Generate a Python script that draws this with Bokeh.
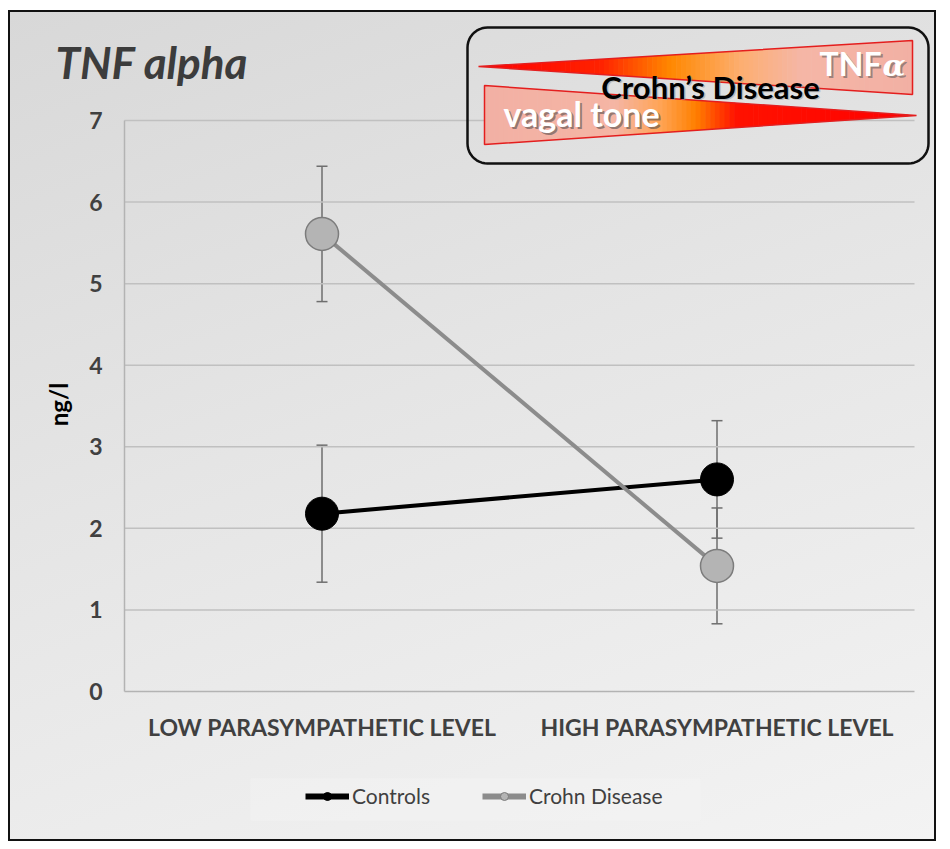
import numpy as np
from bokeh.plotting import figure
from bokeh.models import (Range1d, FixedTicker, ColumnDataSource, Whisker, TeeHead,
                          Label, Legend, LegendItem)
from bokeh.embed import file_html
from bokeh.resources import INLINE

# ---------------- data ----------------
categories = ["LOW PARASYMPATHETIC LEVEL", "HIGH PARASYMPATHETIC LEVEL"]
cat_pos = [0.5, 1.5]
controls = [2.18, 2.60]
controls_err = [0.84, 0.72]
crohn = [5.61, 1.54]
crohn_err = [0.83, 0.71]
y_ticks = [0, 1, 2, 3, 4, 5, 6, 7]

# ---------------- geometry (reference pixels) ----------------
W, H = 928, 831
CANVAS_X0, CANVAS_Y0 = 10, 12          # where the canvas starts on the page
AX_LEFT, AX_RIGHT = 124, 914           # plot area x extent for data 0..2
AX_ZERO, AX_SEVEN = 691, 120           # y pixel of value 0 and 7
ppx = (AX_RIGHT - AX_LEFT) / 2.0
ppy = (AX_ZERO - AX_SEVEN) / 7.0
x_start = (CANVAS_X0 - AX_LEFT) / ppx
x_end = (CANVAS_X0 + W - AX_LEFT) / ppx
y_end = (AX_ZERO - CANVAS_Y0) / ppy
y_start = (AX_ZERO - (CANVAS_Y0 + H)) / ppy

p = figure(width=W, height=H, output_backend="svg", toolbar_location=None,
           x_range=Range1d(x_start, x_end), y_range=Range1d(y_start, y_end),
           min_border=0, min_border_left=0, min_border_right=0,
           min_border_top=0, min_border_bottom=0)
p.styles = {"background": "linear-gradient(160deg, #d8d8d8 0%, #e5e5e5 45%, #f3f3f3 100%)",
            "border": "2px solid #111111",
            "margin-left": "8px", "margin-top": "10px"}
p.border_fill_alpha = 0
p.background_fill_alpha = 0
p.outline_line_color = None
p.xgrid.visible = False
p.ygrid.visible = False

# reference-pixel ranges for decorations
p.extra_x_ranges = {"px": Range1d(CANVAS_X0, CANVAS_X0 + W)}
p.extra_y_ranges = {"py": Range1d(CANVAS_Y0 + H, CANVAS_Y0)}

# axes (fixed inside the frame)
yax = p.yaxis[0]
yax.fixed_location = 0
yax.ticker = FixedTicker(ticks=y_ticks)
yax.axis_line_color = None
yax.major_tick_line_color = None
yax.minor_tick_line_color = None
yax.major_label_text_font = "Lato"
yax.major_label_text_font_style = "bold"
yax.major_label_text_font_size = "23px"
yax.major_label_text_color = "#404040"
yax.major_label_standoff = 16

xax = p.xaxis[0]
xax.fixed_location = 0
xax.ticker = FixedTicker(ticks=cat_pos)
xax.major_label_overrides = {cat_pos[i]: categories[i] for i in range(2)}
xax.axis_line_color = None
xax.major_tick_line_color = None
xax.minor_tick_line_color = None
xax.major_label_text_font = "Lato"
xax.major_label_text_font_style = "bold"
xax.major_label_text_font_size = "23px"
xax.major_label_text_color = "#404040"
xax.major_label_standoff = 15

# legend backdrop (subtle lighter panel)
p.quad(left=[250], right=[700], top=[778], bottom=[820], fill_color="#f4f4f4",
       fill_alpha=0.45, line_color=None, x_range_name="px", y_range_name="py")

# gridlines and axis lines
p.segment(x0=0, x1=2, y0=y_ticks[1:], y1=y_ticks[1:], line_color="#c0c0c0", line_width=1.5)
p.segment(x0=[0], x1=[2], y0=[0], y1=[0], line_color="#b3b3b3", line_width=1.5)
p.segment(x0=[0], x1=[0], y0=[0], y1=[max(y_ticks)], line_color="#b3b3b3", line_width=1.5)

# error bars
for vals, errs in ((controls, controls_err), (crohn, crohn_err)):
    src = ColumnDataSource(dict(x=cat_pos,
                                lower=[v - e for v, e in zip(vals, errs)],
                                upper=[v + e for v, e in zip(vals, errs)]))
    w = Whisker(source=src, base="x", lower="lower", upper="upper", dimension="height",
                line_color="#6e6e6e", line_width=1.5,
                upper_head=TeeHead(size=11, line_color="#6e6e6e", line_width=1.5),
                lower_head=TeeHead(size=11, line_color="#6e6e6e", line_width=1.5))
    w.level = "underlay"
    p.add_layout(w)

# series
p.line(cat_pos, controls, line_color="#000000", line_width=4)
p.line(cat_pos, crohn, line_color="#8c8c8c", line_width=4)
p.scatter(cat_pos, controls, size=33, fill_color="#000000", line_color="#000000")
p.scatter(cat_pos, crohn, size=33, fill_color="#b4b4b4", line_color="#7c7c7c", line_width=1.5)

# legend (small stand-in glyphs, no visible data)
nan2 = [np.nan, np.nan]
lc = p.line(nan2, nan2, line_color="#000000", line_width=6)
sc = p.scatter(nan2, nan2, size=11, fill_color="#000000", line_color="#000000")
lg = p.line(nan2, nan2, line_color="#8c8c8c", line_width=6)
sg = p.scatter(nan2, nan2, size=11, fill_color="#b4b4b4", line_color="#7c7c7c")
legend = Legend(items=[LegendItem(label="Controls", renderers=[lc, sc]),
                       LegendItem(label="Crohn Disease", renderers=[lg, sg])],
                orientation="horizontal", location=(295, 35),
                label_text_font="Lato", label_text_font_size="21px",
                label_text_color="#404040", glyph_width=44, glyph_height=20,
                label_standoff=3, spacing=52, padding=10, margin=0,
                background_fill_alpha=0, border_line_color=None)
p.add_layout(legend)

# ---------------- inset (decorative illustration) ----------------
def rounded_rect(x0, x1, y0, y1, r, n=12):
    xs, ys = [], []
    corners = [(x1 - r, y0 + r, -90, 0), (x1 - r, y1 - r, 0, 90),
               (x0 + r, y1 - r, 90, 180), (x0 + r, y0 + r, 180, 270)]
    for cx, cy, a0, a1 in corners:
        for a in np.linspace(np.radians(a0), np.radians(a1), n):
            xs.append(cx + r * np.cos(a))
            ys.append(cy + r * np.sin(a))
    return xs, ys

def hex2rgb(h):
    h = h.lstrip("#")
    return np.array([int(h[i:i + 2], 16) for i in (0, 2, 4)], dtype=float)

def color_at(x, stops):
    xs = [s[0] for s in stops]
    cols = [hex2rgb(s[1]) for s in stops]
    rgb = [np.interp(x, xs, [c[k] for c in cols]) for k in range(3)]
    return "#%02x%02x%02x" % tuple(int(round(v)) for v in rgb)

def wedge(xa, ya_top, ya_bot, xb, yb_top, yb_bot, stops, n=90):
    xs_list, ys_list, cols = [], [], []
    edges = np.linspace(xa, xb, n + 1)
    for i in range(n):
        u0 = (edges[i] - xa) / (xb - xa)
        u1 = (edges[i + 1] - xa) / (xb - xa)
        t0 = ya_top + (yb_top - ya_top) * u0
        t1 = ya_top + (yb_top - ya_top) * u1
        b0 = ya_bot + (yb_bot - ya_bot) * u0
        b1 = ya_bot + (yb_bot - ya_bot) * u1
        xs_list.append([edges[i], edges[i + 1] + 0.6, edges[i + 1] + 0.6, edges[i]])
        ys_list.append([t0, t1, b1, b0])
        cols.append(color_at((edges[i] + edges[i + 1]) / 2, stops))
    return xs_list, ys_list, cols

upper_stops = [(478, "#ff0000"), (600, "#ff2200"), (670, "#ff8800"),
               (740, "#fdae70"), (800, "#f5b6a6"), (912, "#f2b0a4")]
lower_stops = [(484, "#f2b0a4"), (615, "#f5b5a4"), (660, "#ffa455"),
               (695, "#ff8000"), (735, "#ff1200"), (916, "#ff0000")]

ux, uy, ucol = wedge(478, 66, 66, 912, 40, 94, upper_stops)
p.patches(ux, uy, fill_color=ucol, line_color=None, x_range_name="px", y_range_name="py")
p.patch([478, 912, 912], [66, 40, 94], fill_alpha=0, line_color="#e41e1e", line_width=1.5,
        x_range_name="px", y_range_name="py")

lx, ly, lcol = wedge(484, 85, 144, 916, 115, 115, lower_stops)
p.patches(lx, ly, fill_color=lcol, line_color=None, x_range_name="px", y_range_name="py")
p.patch([484, 916, 484], [85, 115, 144], fill_alpha=0, line_color="#e41e1e", line_width=1.5,
        x_range_name="px", y_range_name="py")

bx, by = rounded_rect(467, 928, 27, 163, 20)
p.patch(bx, by, fill_alpha=0, line_color="#111111", line_width=2.5,
        x_range_name="px", y_range_name="py")

def shadow_text(x, y, text, size, color, shadow, dx=2, dy=2, font="Lato", style="bold", align="center"):
    p.add_layout(Label(x=x, y=y, x_offset=dx, y_offset=-dy, text=text, text_font=font,
                       text_font_style=style, text_font_size=size, text_color=shadow,
                       text_alpha=0.55, text_align=align, text_baseline="middle",
                       x_range_name="px", y_range_name="py"))
    p.add_layout(Label(x=x, y=y, text=text, text_font=font, text_font_style=style,
                       text_font_size=size, text_color=color, text_align=align,
                       text_baseline="middle", x_range_name="px", y_range_name="py"))

shadow_text(881, 63, "TNF", "32px", "#ffffff", "#555555", align="right")
shadow_text(882, 65, "α", "30px", "#ffffff", "#555555", font="DejaVu Serif",
            style="bold italic", align="left")
shadow_text(710, 86, "Crohn’s Disease", "31px", "#000000", "#9a9a9a", dx=1.5, dy=1.5)
shadow_text(581, 113, "vagal tone", "34px", "#ffffff", "#444444")

# title and axis label
p.add_layout(Label(x=55, y=61, text="TNF alpha", text_font="Lato", text_font_style="bold italic",
                   text_font_size="44px", text_color="#3c3c3c", text_align="left",
                   text_baseline="middle", x_range_name="px", y_range_name="py"))
p.add_layout(Label(x=58, y=404, text="ng/l", text_font="Lato", text_font_style="bold",
                   text_font_size="24px", text_color="#000000", text_align="center",
                   text_baseline="middle", angle=np.pi / 2,
                   x_range_name="px", y_range_name="py"))

open("out.html", "w").write(file_html(p, INLINE))
